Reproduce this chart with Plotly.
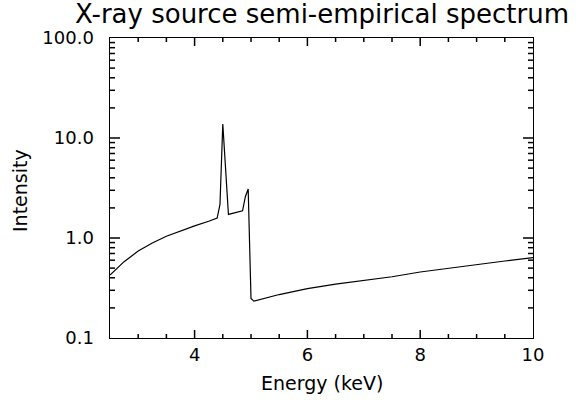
import plotly.graph_objects as go

# Semi-empirical X-ray source spectrum (Ti anode): continuum + K lines + K edge
energy_kev = [2.50, 2.75, 3.00, 3.25, 3.50, 3.75, 4.00, 4.25, 4.40, 4.45,
              4.50, 4.60, 4.85, 4.90, 4.95, 5.00, 5.05, 5.50, 6.00, 6.50,
              7.00, 7.50, 8.00, 8.50, 9.00, 9.50, 10.00]
intensity = [0.427, 0.58, 0.74, 0.89, 1.04, 1.18, 1.32, 1.47, 1.58, 2.17,
             13.8, 1.72, 1.87, 2.59, 3.09, 0.249, 0.234, 0.272, 0.312, 0.346,
             0.376, 0.41, 0.457, 0.50, 0.543, 0.589, 0.635]

x_range = [2.5, 10]
x_major = [4, 6, 8]
x_minor = [3.0, 3.5, 4.5, 5.0, 5.5, 6.5, 7.0, 7.5, 8.5, 9.0, 9.5]
y_range_log = [-1, 2]
y_major = [1.0, 10.0]
y_minor = [m * d for d in (0.1, 1.0, 10.0) for m in range(2, 10)]

title_text = "X-ray source semi-empirical spectrum"
x_title = "Energy (keV)"
y_title = "Intensity"

font_family = "DejaVu Sans"
nbsp = "\u00a0"

W, H = 583, 406
margin = dict(l=110, r=50, t=38, b=68)
plot_w = W - margin["l"] - margin["r"]
plot_h = H - margin["t"] - margin["b"]
kev_per_px = (x_range[1] - x_range[0]) / plot_w
dec_per_px = (y_range_log[1] - y_range_log[0]) / plot_h
y_lo, y_hi = 10 ** y_range_log[0], 10 ** y_range_log[1]


def x_tick_segments(values, length_px):
    """Inward tick marks on the bottom and top frame edges."""
    f = 10 ** (length_px * dec_per_px)
    xs, ys = [], []
    for v in values:
        xs += [v, v, None, v, v, None]
        ys += [y_lo, y_lo * f, None, y_hi, y_hi / f, None]
    return xs, ys


def y_tick_segments(values, length_px):
    """Inward tick marks on the left and right frame edges."""
    d = length_px * kev_per_px
    xs, ys = [], []
    for v in values:
        xs += [x_range[0], x_range[0] + d, None, x_range[1], x_range[1] - d, None]
        ys += [v, v, None, v, v, None]
    return xs, ys


fig = go.Figure()
fig.add_trace(go.Scatter(
    x=energy_kev, y=intensity, mode="lines",
    line=dict(color="black", width=1.2),
    showlegend=False, hoverinfo="skip",
))

for seg_fn, vals, length in ((x_tick_segments, x_major, 8),
                             (x_tick_segments, x_minor, 4),
                             (y_tick_segments, y_major, 10),
                             (y_tick_segments, y_minor, 5)):
    sx, sy = seg_fn(vals, length)
    fig.add_trace(go.Scatter(x=sx, y=sy, mode="lines",
                             line=dict(color="black", width=1.5),
                             showlegend=False, hoverinfo="skip"))

axis_common = dict(showgrid=False, zeroline=False, showline=True,
                   linecolor="black", linewidth=1.2, mirror=True, ticks="")

fig.update_layout(
    width=W, height=H,
    margin=margin,
    paper_bgcolor="white", plot_bgcolor="white",
    font=dict(family=font_family, size=18, color="black"),
    showlegend=False,
    xaxis=dict(range=x_range, tick0=0, dtick=2, **axis_common),
    yaxis=dict(type="log", range=y_range_log, dtick=1, tickformat=".1f",
               ticksuffix=nbsp * 2, **axis_common),
)

# chart title and axis titles placed relative to the plotting area
fig.add_annotation(text=title_text, xref="paper", yref="paper",
                   x=0.5, y=1.08, xanchor="center", yanchor="middle",
                   showarrow=False, font=dict(family=font_family, size=26))
fig.add_annotation(text=x_title, xref="paper", yref="paper",
                   x=0.5, y=-0.15, xanchor="center", yanchor="middle",
                   showarrow=False, font=dict(family=font_family, size=19))
fig.add_annotation(text=y_title, xref="paper", yref="paper",
                   x=-0.213, y=0.493, xanchor="center", yanchor="middle",
                   textangle=-90, showarrow=False,
                   font=dict(family=font_family, size=19))

fig.write_html("out.html")
